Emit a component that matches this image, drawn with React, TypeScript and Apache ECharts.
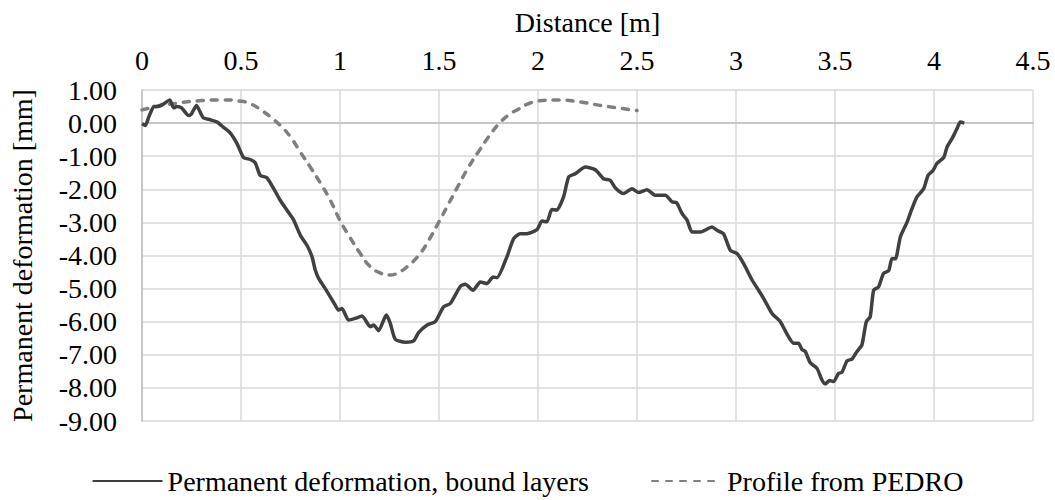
import React, { useEffect, useRef } from "react";
import * as echarts from "echarts";

const deformX = [
  0.0, 0.017, 0.034, 0.06, 0.075, 0.11, 0.14, 0.16, 0.175, 0.2, 0.235, 0.25, 0.275, 0.294, 0.31, 0.345, 0.38, 0.41,
  0.446, 0.48, 0.513, 0.547, 0.572, 0.597, 0.631, 0.665, 0.698, 0.732, 0.766, 0.8, 0.833, 0.859, 0.875, 0.892, 0.92,
  0.951, 0.976, 0.993, 1.01, 1.043, 1.077, 1.111, 1.153, 1.17, 1.195, 1.234, 1.254, 1.279, 1.33, 1.372, 1.397, 1.44,
  1.481, 1.523, 1.557, 1.608, 1.633, 1.672, 1.709, 1.742, 1.773, 1.793, 1.843, 1.877, 1.91, 1.944, 1.995, 2.02, 2.045,
  2.07, 2.095, 2.129, 2.155, 2.188, 2.239, 2.289, 2.331, 2.365, 2.39, 2.432, 2.475, 2.508, 2.55, 2.592, 2.643, 2.677,
  2.7, 2.727, 2.753, 2.778, 2.82, 2.879, 2.904, 2.937, 2.971, 3.005, 3.038, 3.081, 3.114, 3.14, 3.182, 3.224, 3.258,
  3.291, 3.316, 3.333, 3.35, 3.375, 3.409, 3.434, 3.451, 3.473, 3.493, 3.518, 3.535, 3.561, 3.586, 3.611, 3.636,
  3.658, 3.678, 3.695, 3.72, 3.745, 3.771, 3.788, 3.805, 3.83, 3.864, 3.889, 3.914, 3.948, 3.97, 3.995, 4.015, 4.049,
  4.066, 4.091, 4.116, 4.133, 4.153,
];
const deformY = [
  -0.02, -0.07, 0.18, 0.5, 0.5, 0.58, 0.7, 0.46, 0.5, 0.46, 0.23, 0.28, 0.53, 0.33, 0.16, 0.1, 0.03, -0.12,
  -0.3, -0.62, -1.04, -1.1, -1.2, -1.58, -1.65, -1.98, -2.33, -2.63, -2.93, -3.39, -3.69, -4.04, -4.44, -4.69, -4.95,
  -5.25, -5.5, -5.65, -5.6, -5.95, -5.9, -5.83, -6.15, -6.1, -6.27, -5.8, -6.05, -6.53, -6.62, -6.58, -6.33, -6.1,
  -6.0, -5.55, -5.45, -4.93, -4.87, -5.05, -4.8, -4.85, -4.65, -4.67, -4.04, -3.49, -3.34, -3.34, -3.22, -2.96, -2.98,
  -2.61, -2.63, -2.23, -1.63, -1.53, -1.33, -1.41, -1.68, -1.73, -1.95, -2.13, -1.98, -2.1, -2.01, -2.18, -2.18, -2.38,
  -2.4, -2.73, -2.93, -3.29, -3.29, -3.14, -3.24, -3.34, -3.84, -3.94, -4.24, -4.74, -5.05, -5.3, -5.75, -6.0, -6.38,
  -6.65, -6.65, -6.84, -6.9, -7.24, -7.41, -7.76, -7.88, -7.78, -7.81, -7.56, -7.53, -7.18, -7.13, -6.9, -6.7,
  -6.0, -5.85, -5.05, -4.95, -4.54, -4.46, -4.09, -4.1, -3.44, -2.99, -2.58, -2.23, -1.98, -1.58, -1.43, -1.22, -1.04,
  -0.72, -0.47, -0.17, 0.03, 0.0,
];

const pedroX = [
  0, 0.1, 0.2, 0.3, 0.4, 0.5, 0.55, 0.6, 0.65, 0.7, 0.75, 0.8, 0.85, 0.9, 0.95, 1.0, 1.05, 1.1, 1.15, 1.2, 1.25, 1.3,
  1.35, 1.4, 1.45, 1.5, 1.55, 1.6, 1.65, 1.7, 1.75, 1.8, 1.85, 1.9, 1.95, 2.0, 2.1, 2.2, 2.3, 2.4, 2.5,
];
const pedroY = [
  0.4, 0.53, 0.62, 0.68, 0.7, 0.66, 0.58, 0.4, 0.18, -0.08, -0.42, -0.88, -1.33, -1.8, -2.32, -2.94, -3.45, -3.92,
  -4.32, -4.52, -4.59, -4.5, -4.28, -3.98, -3.52, -2.98, -2.42, -1.86, -1.32, -0.86, -0.42, -0.04, 0.24, 0.42, 0.58,
  0.67, 0.7, 0.65, 0.55, 0.46, 0.38,
];

const seriesNames = ["Permanent deformation, bound layers", "Profile from PEDRO"];
const xTitle = "Distance [m]";
const yTitle = "Permanent deformation [mm]";

const FONT = "'Liberation Serif', 'Times New Roman', serif";

export default function App() {
  const ref = useRef<HTMLDivElement>(null);
  useEffect(() => {
    const chart = echarts.init(ref.current!, null, { renderer: "svg" });
    chart.setOption({
      animation: false,
      textStyle: { fontFamily: FONT, color: "#000" },
      grid: { left: 142, right: 22, top: 90, bottom: 79, containLabel: false },
      legend: {
        bottom: 0,
        left: "center",
        itemWidth: 70,
        itemHeight: 14,
        itemGap: 62,
        itemStyle: { opacity: 0 },
        textStyle: { fontFamily: FONT, fontSize: 28, color: "#000" },
        data: seriesNames,
      },
      xAxis: {
        type: "value",
        position: "top",
        min: 0,
        max: 4.5,
        interval: 0.5,
        name: xTitle,
        nameLocation: "middle",
        nameGap: 54,
        nameTextStyle: { fontFamily: FONT, fontSize: 28, color: "#000" },
        axisLine: { show: true, lineStyle: { color: "#bfbfbf", width: 1.5 } },
        axisTick: { show: false },
        axisLabel: { fontFamily: FONT, fontSize: 28, color: "#000", margin: 16 },
        splitLine: { show: true, lineStyle: { color: "#d9d9d9", width: 1.5 } },
      },
      yAxis: {
        type: "value",
        min: -9,
        max: 1,
        interval: 1,
        name: yTitle,
        nameLocation: "middle",
        nameGap: 106,
        nameRotate: 90,
        nameTextStyle: { fontFamily: FONT, fontSize: 28, color: "#000" },
        axisLine: { show: true, onZero: false, lineStyle: { color: "#bfbfbf", width: 1.5 } },
        axisTick: { show: false },
        axisLabel: {
          fontFamily: FONT,
          fontSize: 28,
          color: "#000",
          margin: 25,
          formatter: (v: number) => v.toFixed(2),
        },
        splitLine: { show: true, lineStyle: { color: "#d9d9d9", width: 1.5 } },
      },
      series: [
        {
          name: seriesNames[0],
          type: "line",
          showSymbol: false,
          symbol: "none",
          smooth: 0.2,
          lineStyle: { color: "#404040", width: 3.5 },
          itemStyle: { color: "#404040" },
          data: deformX.map((x, i) => [x, deformY[i]]),
          z: 3,
        },
        {
          name: seriesNames[1],
          type: "line",
          showSymbol: false,
          symbol: "none",
          smooth: true,
          lineStyle: { color: "#7f7f7f", width: 3.5, type: [6, 8], cap: "round" },
          itemStyle: { color: "#7f7f7f" },
          data: pedroX.map((x, i) => [x, pedroY[i]]),
          z: 2,
        },
      ],
    });
    return () => chart.dispose();
  }, []);
  return (
    <div
      ref={ref}
      style={{ position: "fixed", left: 0, top: 0, width: 1055, height: 500, background: "#fff" }}
    />
  );
}
